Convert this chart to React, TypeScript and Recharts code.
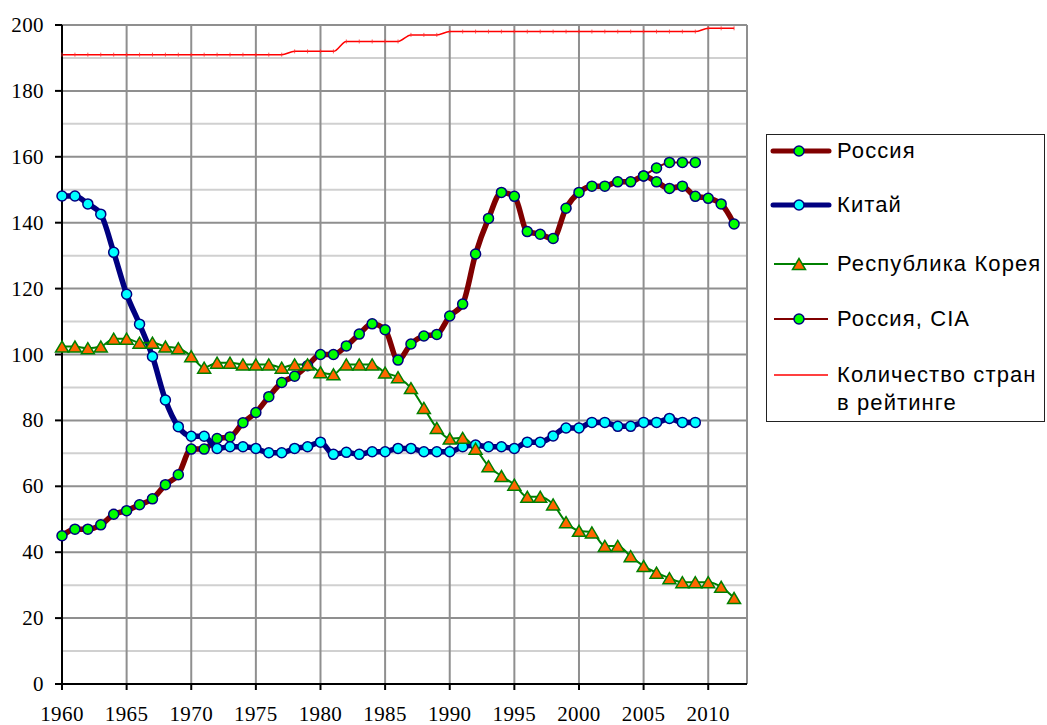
import React from 'react';
import { LineChart, Line, XAxis, YAxis, CartesianGrid } from 'recharts';

const years = [
  1960, 1961, 1962, 1963, 1964, 1965, 1966, 1967, 1968, 1969,
  1970, 1971, 1972, 1973, 1974, 1975, 1976, 1977, 1978, 1979,
  1980, 1981, 1982, 1983, 1984, 1985, 1986, 1987, 1988, 1989,
  1990, 1991, 1992, 1993, 1994, 1995, 1996, 1997, 1998, 1999,
  2000, 2001, 2002, 2003, 2004, 2005, 2006, 2007, 2008, 2009,
  2010, 2011, 2012,
];

const russia = [
  45, 47, 47, 48.3, 51.5, 52.6, 54.4, 56.2, 60.5, 63.5,
  71.3, 71.3, 74.5, 75, 79.3, 82.4, 87.2, 91.5, 93.4, 96.6,
  100, 100, 102.6, 106.2, 109.3, 107.5, 98.3, 103.2, 105.6, 106.1,
  111.7, 115.3, 130.5, 141.3, 149.2, 148, 137.3, 136.5, 135.2, 144.4,
  149.2, 151.1, 151.1, 152.4, 152.4, 154.2, 152.4, 150.4, 151.1, 148,
  147.4, 145.7, 139.6,
];

const china = [
  148.1, 148.1, 145.7, 142.6, 131, 118.3, 109.2, 99.4, 86.2, 78.1,
  75.2, 75.2, 71.5, 72, 72, 71.5, 70.2, 70.2, 71.5, 72,
  73.4, 69.7, 70.3, 69.7, 70.5, 70.5, 71.5, 71.5, 70.5, 70.5,
  70.5, 72, 72.5, 72, 72, 71.5, 73.4, 73.4, 75.3, 77.7,
  77.7, 79.4, 79.4, 78.2, 78.2, 79.4, 79.4, 80.6, 79.4, 79.4,
];

const korea = [
  102.4, 102.4, 101.9, 102.4, 104.8, 104.8, 103.6, 103.6, 102.4, 101.9,
  99.5, 96, 97.5, 97.5, 97, 97, 97, 96, 97, 97,
  94.6, 94, 97, 97, 97, 94.5, 93.1, 89.8, 83.8, 77.7,
  74.5, 74.7, 71.4, 66.1, 63.1, 60.5, 56.8, 56.8, 54.5, 49.1,
  46.5, 46, 41.9, 41.9, 38.8, 35.8, 33.8, 32.1, 30.9, 30.9,
  30.9, 29.5, 26.1,
];

const ciaYears = [2005, 2006, 2007, 2008, 2009];
const russiaCIA = [154.2, 156.6, 158.3, 158.3, 158.3];

const countries = [
  191, 191, 191, 191, 191, 191, 191, 191, 191, 191,
  191, 191, 191, 191, 191, 191, 191, 191, 192, 192,
  192, 192, 195, 195, 195, 195, 195, 197, 197, 197,
  198, 198, 198, 198, 198, 198, 198, 198, 198, 198,
  198, 198, 198, 198, 198, 198, 198, 198, 198, 198,
  199, 199, 199,
];

const xTicks = [1960, 1965, 1970, 1975, 1980, 1985, 1990, 1995, 2000, 2005, 2010];
const yTicks = [0, 20, 40, 60, 80, 100, 120, 140, 160, 180, 200];
const yMinor = [10, 30, 50, 70, 90, 110, 130, 150, 170, 190];
const xGrid = [1960, 1965, 1970, 1975, 1980, 1985, 1990, 1995, 2000, 2005, 2010, 2013];

const seriesNames = ['Россия', 'Китай', 'Республика Корея', 'Россия, CIA', 'Количество стран в рейтинге'];

const data = years.map((year, i) => {
  const ci = ciaYears.indexOf(year);
  return {
    year,
    russia: russia[i] ?? null,
    china: china[i] ?? null,
    korea: korea[i] ?? null,
    russiaCIA: ci >= 0 ? russiaCIA[ci] : null,
    countries: countries[i] ?? null,
  };
});

const serif = "'Liberation Serif', 'Times New Roman', serif";
const sans = "'Liberation Sans', Arial, sans-serif";

const TriangleDot = (props: any) => {
  const { cx, cy, index, value } = props;
  if (cx == null || cy == null || value == null) return <g key={`t${index}`} />;
  return (
    <polygon
      key={`t${index}`}
      points={`${cx},${cy - 5.5} ${cx - 6.5},${cy + 5.5} ${cx + 6.5},${cy + 5.5}`}
      fill="#ff6600"
      stroke="#008000"
      strokeWidth={1.5}
    />
  );
};

const TickDot = (props: any) => {
  const { cx, cy, index, value } = props;
  if (cx == null || cy == null || value == null) return <g key={`d${index}`} />;
  return <line key={`d${index}`} x1={cx} x2={cx} y1={cy - 2} y2={cy + 2} stroke="#ff3030" strokeWidth={0.8} />;
};

const XTick = (props: any) => {
  const { x, y, payload } = props;
  return (
    <text
      x={x}
      y={y}
      dy={13.5}
      textAnchor="middle"
      fill="#000"
      fontFamily={serif}
      fontSize={21}
      style={{ fontFamily: serif, fontSize: 21, letterSpacing: 0.4 }}
    >
      {payload.value}
    </text>
  );
};

const YTick = (props: any) => {
  const { x, y, payload } = props;
  return (
    <text
      x={x}
      y={y}
      dy={7}
      textAnchor="end"
      fill="#000"
      fontFamily={serif}
      fontSize={21}
      style={{ fontFamily: serif, fontSize: 21, letterSpacing: 0.4 }}
    >
      {payload.value}
    </text>
  );
};

const LegendSwatch = ({ kind }: { kind: number }) => {
  const w = 62;
  const h = 16;
  const y = 8;
  if (kind === 0)
    return (
      <svg width={w} height={h}>
        <line x1={3} x2={59} y1={y} y2={y} stroke="#800000" strokeWidth={5} strokeLinecap="round" />
        <circle cx={29} cy={y} r={5} fill="#00ff00" stroke="#000080" strokeWidth={1.5} />
      </svg>
    );
  if (kind === 1)
    return (
      <svg width={w} height={h}>
        <line x1={3} x2={59} y1={y} y2={y} stroke="#000080" strokeWidth={5} strokeLinecap="round" />
        <circle cx={29} cy={y} r={5} fill="#00ffff" stroke="#000080" strokeWidth={1.5} />
      </svg>
    );
  if (kind === 2)
    return (
      <svg width={w} height={h}>
        <line x1={4} x2={58} y1={y} y2={y} stroke="#008000" strokeWidth={2} />
        <polygon points={`29,${y - 5.5} 22.5,${y + 5.5} 35.5,${y + 5.5}`} fill="#ff6600" stroke="#008000" strokeWidth={1.5} />
      </svg>
    );
  if (kind === 3)
    return (
      <svg width={w} height={h}>
        <line x1={4} x2={58} y1={y} y2={y} stroke="#800000" strokeWidth={2} />
        <circle cx={29} cy={y} r={5} fill="#00ff00" stroke="#000080" strokeWidth={1.5} />
      </svg>
    );
  return (
    <svg width={w} height={h}>
      <line x1={4} x2={58} y1={y} y2={y} stroke="#ff0000" strokeWidth={1.5} />
    </svg>
  );
};

const legendRows = [151, 205, 264, 319, 375];

export default function App() {
  return (
    <div style={{ position: 'absolute', left: 0, top: 0, width: 1047, height: 725, background: '#fff' }}>
      <LineChart
        width={1047}
        height={725}
        data={data}
        margin={{ top: 25, right: 300, bottom: 0, left: 0 }}
      >
        <CartesianGrid
          horizontal={true}
          vertical={false}
          horizontalValues={yMinor}
          stroke="#d0d0d0"
          strokeWidth={2}
        />
        <CartesianGrid
          horizontal={true}
          vertical={true}
          horizontalValues={yTicks}
          verticalValues={xGrid}
          stroke="#8f8f8f"
          strokeWidth={2}
        />
        <XAxis
          dataKey="year"
          type="number"
          domain={[1960, 2013]}
          ticks={xTicks}
          interval={0}
          height={41}
          tickSize={6}
          tickMargin={17}
          axisLine={{ stroke: '#000', strokeWidth: 2 }}
          tickLine={{ stroke: '#000', strokeWidth: 2 }}
          tick={XTick}
        />
        <YAxis
          type="number"
          domain={[0, 200]}
          ticks={yTicks}
          interval={0}
          width={62}
          tickSize={7}
          tickMargin={11}
          axisLine={{ stroke: '#000', strokeWidth: 2 }}
          tickLine={{ stroke: '#000', strokeWidth: 2 }}
          tick={YTick}
        />
        <Line
          name={seriesNames[0]}
          dataKey="russia"
          type="monotone"
          stroke="#800000"
          strokeWidth={5.5}
          dot={{ r: 5, fill: '#00ff00', stroke: '#000080', strokeWidth: 1.5 }}
          isAnimationActive={false}
        />
        <Line
          name={seriesNames[1]}
          dataKey="china"
          type="monotone"
          stroke="#000080"
          strokeWidth={5.5}
          dot={{ r: 5, fill: '#00ffff', stroke: '#000080', strokeWidth: 1.5 }}
          isAnimationActive={false}
        />
        <Line
          name={seriesNames[2]}
          dataKey="korea"
          type="monotone"
          stroke="#008000"
          strokeWidth={2}
          dot={TriangleDot}
          isAnimationActive={false}
        />
        <Line
          name={seriesNames[3]}
          dataKey="russiaCIA"
          type="monotone"
          stroke="#800000"
          strokeWidth={2}
          dot={{ r: 5, fill: '#00ff00', stroke: '#000080', strokeWidth: 1.5 }}
          isAnimationActive={false}
        />
        <Line
          name={seriesNames[4]}
          dataKey="countries"
          type="monotone"
          stroke="#ff0000"
          strokeWidth={1.5}
          dot={TickDot}
          isAnimationActive={false}
        />
      </LineChart>
      <div
        style={{
          position: 'absolute',
          left: 766,
          top: 134,
          width: 279,
          height: 288,
          border: '1.5px solid #222',
          boxSizing: 'border-box',
        }}
      />
      {seriesNames.map((name, i) => (
        <div
          key={name}
          style={{
            position: 'absolute',
            left: 770,
            top: legendRows[i] - 14,
            display: 'flex',
            alignItems: 'flex-start',
            fontFamily: sans,
            fontSize: 22,
            letterSpacing: 1.1,
            lineHeight: '28px',
            color: '#000',
          }}
        >
          <div style={{ width: 67, height: 28, display: 'flex', alignItems: 'center' }}>
            <LegendSwatch kind={i} />
          </div>
          <div style={{ width: 210, whiteSpace: 'normal' }}>
            {i === 4 ? (
              <>
                Количество стран
                <br />в рейтинге
              </>
            ) : (
              name
            )}
          </div>
        </div>
      ))}
    </div>
  );
}
